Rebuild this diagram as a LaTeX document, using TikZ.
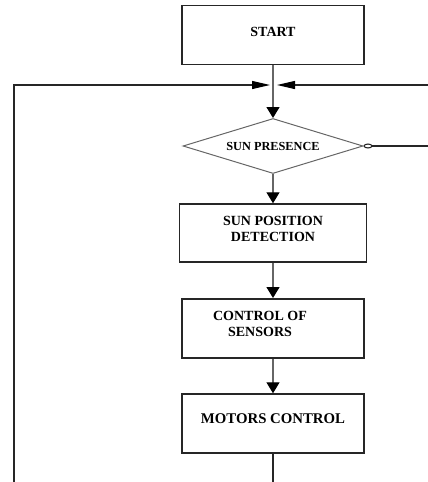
\documentclass[tikz,border=0pt]{standalone}
\usepackage{fontspec}
\setmainfont{Liberation Serif}
\usetikzlibrary{arrows.meta,shapes.geometric}

\begin{document}
\begin{tikzpicture}[x=1pt,y=-1pt,->,>={Triangle[length=11pt,width=13pt,color=black]},
                    line width=1.3pt,draw=black!60,
                    every node/.style={font=\bfseries\fontsize{14}{16}\selectfont},
                    box/.style={rectangle,draw=black!85,line width=1.4pt,
                                minimum width=182pt,minimum height=59pt,
                                inner sep=0pt,align=center},
                    test/.style={diamond,draw=black!60,line width=1pt,aspect=3.3,
                                 minimum width=180pt,minimum height=55pt,inner sep=0pt,
                                 font=\bfseries\fontsize{12.3}{14}\selectfont},
                    side/.style={draw=black!85,line width=1.1pt}]

  \useasboundingbox (0,0) rectangle (428,482);

  \node[box,text depth=6pt]      (A) at (273,35)                   {START};
  \node[test]                    (B) [below of=A,node distance=111pt] {SUN PRESENCE};
  \node[box,minimum width=187pt,minimum height=58pt,text depth=8pt]
                                 (C) [below of=B,node distance=87pt]  {SUN POSITION\\DETECTION};
  \node[box,line width=2pt,label={[align=center,xshift=-13pt,yshift=4.5pt]center:{CONTROL OF\\SENSORS}}]
                                 (D) [below of=C,node distance=95.5pt] {};
  \node[box,text depth=10pt,font=\bfseries\fontsize{14.8}{16}\selectfont]
                                 (E) [below of=D,node distance=95pt]  {MOTORS CONTROL};

  \coordinate (J)  at (273,85);
  \coordinate (BL) at (14,487);
  \coordinate (R)  at (433,146);

  \path (A) edge (B)
        (B) edge (C)
        (C) edge (D)
        (D) edge (E);

  % loop back from the motors and from the test
  \draw[side,-{Triangle[length=18pt,width=8pt,color=black]},shorten >=3pt]
        (E.south) -- (E.south |- BL) -- (BL) -- (BL |- J) -- (J);
  \draw[side,{Circle[open,length=9pt,width=5pt]}-{Triangle[length=18pt,width=8pt,color=black]},shorten >=4pt]
        (B.east) -- (R) |- (J);
\end{tikzpicture}
\end{document}
